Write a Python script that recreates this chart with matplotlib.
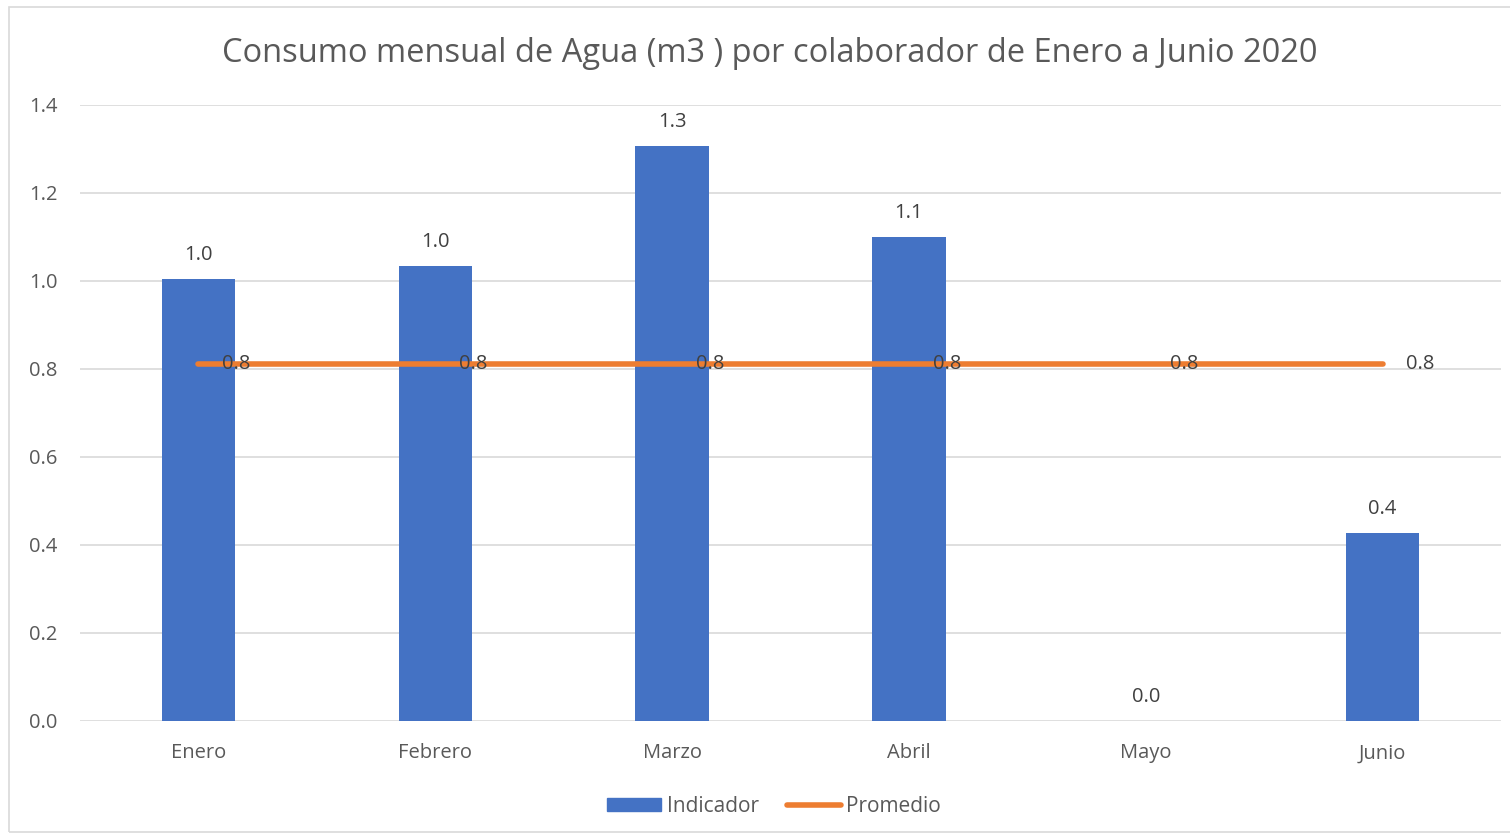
import matplotlib
matplotlib.use("Agg")
import matplotlib.pyplot as plt
from matplotlib.patches import Rectangle
from matplotlib.lines import Line2D
import numpy as np

categories = ["Enero", "Febrero", "Marzo", "Abril", "Mayo", "Junio"]
indicador = [1.005, 1.034, 1.307, 1.100, 0.0, 0.427]
promedio = [0.812, 0.812, 0.812, 0.812, 0.812, 0.812]
yticks = [0.0, 0.2, 0.4, 0.6, 0.8, 1.0, 1.2, 1.4]
title = "Consumo mensual de Agua (m3 ) por colaborador de Enero a Junio 2020"

plt.rcParams['font.family'] = ['Open Sans', 'DejaVu Sans']
txt = '#595959'
blue = '#4472C4'
orange = '#ED7D31'
grid = '#D9D9D9'

fig = plt.figure(figsize=(15.1, 8.36), dpi=100)
fig.patches.append(Rectangle((9/1510, 4/836), 1 - 9/1510 + 0.01, 1 - 11/836, transform=fig.transFigure,
                             fill=False, edgecolor='#D9D9D9', linewidth=1.2))
ax = fig.add_axes([80/1510, 1 - 721/836, (1501 - 80)/1510, (721 - 105)/836])
x = np.arange(len(categories))
ax.bar(x, indicador, width=0.31, color=blue, zorder=2, label='Indicador')
ax.plot(x, promedio, color=orange, linewidth=4, solid_capstyle='round', zorder=3, label='Promedio')

for xi, v in zip(x, indicador):
    ax.annotate(f"{v:.1f}", (xi, v), xytext=(0, 14), textcoords='offset pixels',
                ha='center', va='bottom', fontsize=14.5, color='#404040')
for xi, v in zip(x, promedio):
    ax.annotate(f"{v:.1f}", (xi, v), xytext=(38, 0), textcoords='offset pixels',
                ha='center', va='center', fontsize=14.5, color='#404040', zorder=4)

ax.set_xlim(-0.5, len(categories) - 0.5)
ax.set_ylim(0, 1.4)
ax.set_yticks(yticks)
ax.set_yticklabels([f"{t:.1f}" for t in yticks])
ax.set_xticks(x)
ax.set_xticklabels(categories)
ax.tick_params(axis='both', length=0, labelsize=14.5, labelcolor=txt)
ax.tick_params(axis='y', pad=16)
ax.tick_params(axis='x', pad=16)
ax.grid(axis='y', color=grid, linewidth=1.2, zorder=0)
for s in ax.spines.values():
    s.set_visible(False)

fig.text(770/1510, 1 - 53/836, title, ha='center', va='center', fontsize=23.5, color=txt)

handles = [Rectangle((0, 0), 1, 1, color=blue), Line2D([0], [0], color=orange, linewidth=4, solid_capstyle='round')]
fig.legend(handles, ['Indicador', 'Promedio'], loc='center', bbox_to_anchor=(774/1510, 1 - 806/836),
           ncol=2, frameon=False, fontsize=15, labelcolor=txt, handlelength=2.6, handleheight=0.6,
           handletextpad=0.25, columnspacing=1.35)

fig.savefig("out.png", dpi=100)
